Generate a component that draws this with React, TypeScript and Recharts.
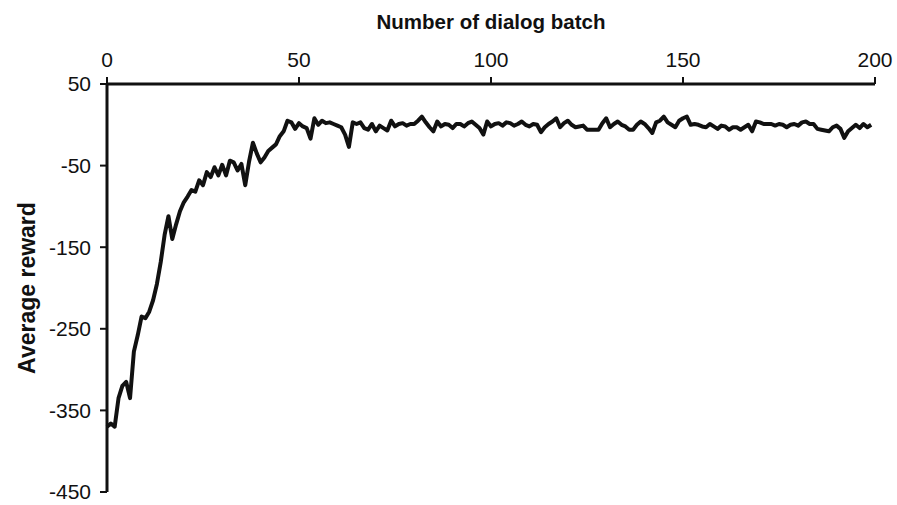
import { LineChart, Line, XAxis, YAxis } from "recharts";

// average reward per dialog batch, batches 0..199
const rewards = [
  -370, -366, -370, -335, -320, -315, -335, -278, -258, -235,
  -237, -229, -215, -195, -168, -135, -112, -140, -122, -106,
  -95, -88, -80, -82, -68, -74, -58, -64, -52, -62,
  -49, -62, -44, -46, -56, -48, -74, -45, -22, -35,
  -46, -40, -32, -28, -24, -14, -8, 5, 3, -5,
  2, -2, -4, -17, 8, 0, 5, 2, 3, 1,
  -1, -3, -12, -27, 3, 1, 3, -4, -6, 1,
  -8, -1, -4, -7, 5, -2, 1, 2, -1, 1,
  1, 5, 10, 3, -3, -8, 4, -2, 1, 0,
  -4, 1, 1, -2, 2, 4, 0, -4, -12, 4,
  -2, 1, 2, -1, 3, 2, -1, 1, 4, 0,
  -2, 1, 0, -9, -3, 1, 4, 8, -3, 2,
  5, 0, -3, -2, -1, -6, -6, -6, -6, 2,
  8, -3, 1, 4, 0, -2, -6, -6, 0, 4,
  1, -4, -10, 3, 5, 10, 3, 0, -3, 5,
  8, 10, 0, 1, 0, -2, -3, 1, -2, -5,
  -1, -2, -6, -3, -3, -6, -3, 0, -8, 4,
  3, 1, 1, 1, -1, 1, 0, -3, 0, 1,
  -1, 3, 4, 1, 1, -5, -6, -7, -8, -3,
  -1, -5, -16, -8, -4, 0, -4, 1, -3, 0,
];

const xTicks = [0, 50, 100, 150, 200];
const yTicks = [50, -50, -150, -250, -350, -450];

const data = rewards.map((reward, batch) => ({ batch, reward }));

const FONT = "'Liberation Sans', Arial, Helvetica, sans-serif";
const NARROW = "'Liberation Sans Narrow', 'Arial Narrow', 'Liberation Sans', Arial, sans-serif";

const XTitle = ({ viewBox }: any) => {
  const cx = viewBox.x + viewBox.width / 2;
  return (
    <text x={cx} y={29} textAnchor="middle" fontFamily={FONT} fontSize={20.5} fontWeight="bold" fill="#111">
      Number of dialog batch
    </text>
  );
};

const YTitle = ({ viewBox }: any) => {
  const cy = viewBox.y + viewBox.height / 2;
  return (
    <text
      x={35}
      y={cy}
      transform={`rotate(-90, 35, ${cy})`}
      textAnchor="middle"
      fontFamily={FONT}
      fontSize={23}
      fontWeight="bold"
      fill="#111"
    >
      Average reward
    </text>
  );
};

export default function App() {
  return (
    <div style={{ position: "absolute", left: 0, top: 0, width: 897, height: 505, background: "#fff" }}>
      <LineChart width={897} height={505} data={data} margin={{ top: 0, right: 22, bottom: 13, left: 0 }}>
        <XAxis
          dataKey="batch"
          type="number"
          orientation="top"
          domain={[0, 200]}
          ticks={xTicks}
          height={84}
          axisLine={{ stroke: "#111", strokeWidth: 3 }}
          tickLine={{ stroke: "#111", strokeWidth: 2 }}
          tickSize={7}
          tickMargin={10}
          tick={{ fill: "#111", fontSize: 21, fontFamily: NARROW }}
          label={<XTitle />}
        />
        <YAxis
          type="number"
          domain={[-450, 50]}
          ticks={yTicks}
          width={107}
          axisLine={{ stroke: "#111", strokeWidth: 3 }}
          tickLine={{ stroke: "#111", strokeWidth: 2 }}
          tickSize={7}
          tickMargin={9}
          tick={{ fill: "#111", fontSize: 21, fontFamily: NARROW }}
          label={<YTitle />}
        />
        <Line
          dataKey="reward"
          type="linear"
          stroke="#111"
          strokeWidth={4}
          strokeLinejoin="round"
          dot={false}
          isAnimationActive={false}
        />
      </LineChart>
    </div>
  );
}
